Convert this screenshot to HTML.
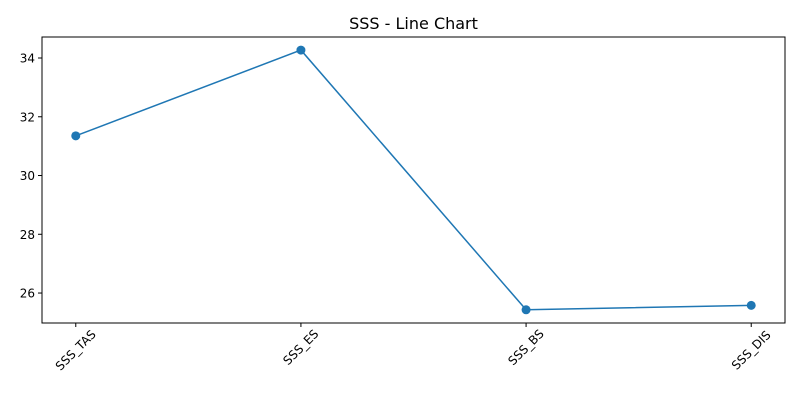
<!DOCTYPE html>
<html><head><meta charset="utf-8"><style>
body{margin:0;background:#fff;font-family:"Liberation Sans","DejaVu Sans",sans-serif}
</style></head><body>
<svg id="chart" width="800" height="400" xmlns="http://www.w3.org/2000/svg">
<rect width="800" height="400" fill="#fff"/>
<text x="413.5" y="29" text-anchor="middle" font-size="16" fill="#000" font-family="DejaVu Sans, sans-serif">SSS - Line Chart</text>
<g id="axes"></g>
</svg>
<script>
const categories=["SSS_TAS","SSS_ES","SSS_BS","SSS_DIS"];
const values=[31.35,34.27,25.43,25.58];
const yTicks=[26,28,30,32,34];
const L=42,R=785,T=37,B=323;
const xMin=-0.15,xMax=3.15,yMin=24.98,yMax=34.715;
const xs=i=>L+(i-xMin)/(xMax-xMin)*(R-L);
const ys=v=>B-(v-yMin)/(yMax-yMin)*(B-T);
const ns="http://www.w3.org/2000/svg";
const g=document.getElementById('axes');
function mk(t,a){const e=document.createElementNS(ns,t);for(const k in a)e.setAttribute(k,a[k]);g.appendChild(e);return e;}
yTicks.forEach(v=>{
 const y=ys(v);
 const t=mk('line',{x1:L-4,x2:L,y1:y,y2:y,stroke:'#000','stroke-width':1});
 
 
 const l=mk('text',{x:L-7,y:y+4.5,'text-anchor':'end','font-size':12,'font-family':'DejaVu Sans, sans-serif'});
 l.textContent=v;
 
 
});
categories.forEach((c,i)=>{
 const x=xs(i);
 const t=mk('line',{x1:x,x2:x,y1:B,y2:B+4,stroke:'#000','stroke-width':1});
 
 
 const cy=B+7+c.length*2.9;
 const l=mk('text',{x:x,y:cy+4,'text-anchor':'middle','font-size':12,'font-family':'DejaVu Sans, sans-serif',transform:`rotate(-45 ${x} ${cy})`});
 l.textContent=c;
 
 
});
const pl=mk('polyline',{points:values.map((v,i)=>xs(i)+','+ys(v)).join(' '),fill:'none',stroke:'#1f77b4','stroke-width':1.5});


values.forEach((v,i)=>{
 const c=mk('circle',{cx:xs(i),cy:ys(v),r:4.5,fill:'#1f77b4'});
 
 
});
const f=mk('rect',{x:L,y:T,width:R-L,height:B-T,fill:'none',stroke:'#000','stroke-width':1});


</script>
</body></html>
